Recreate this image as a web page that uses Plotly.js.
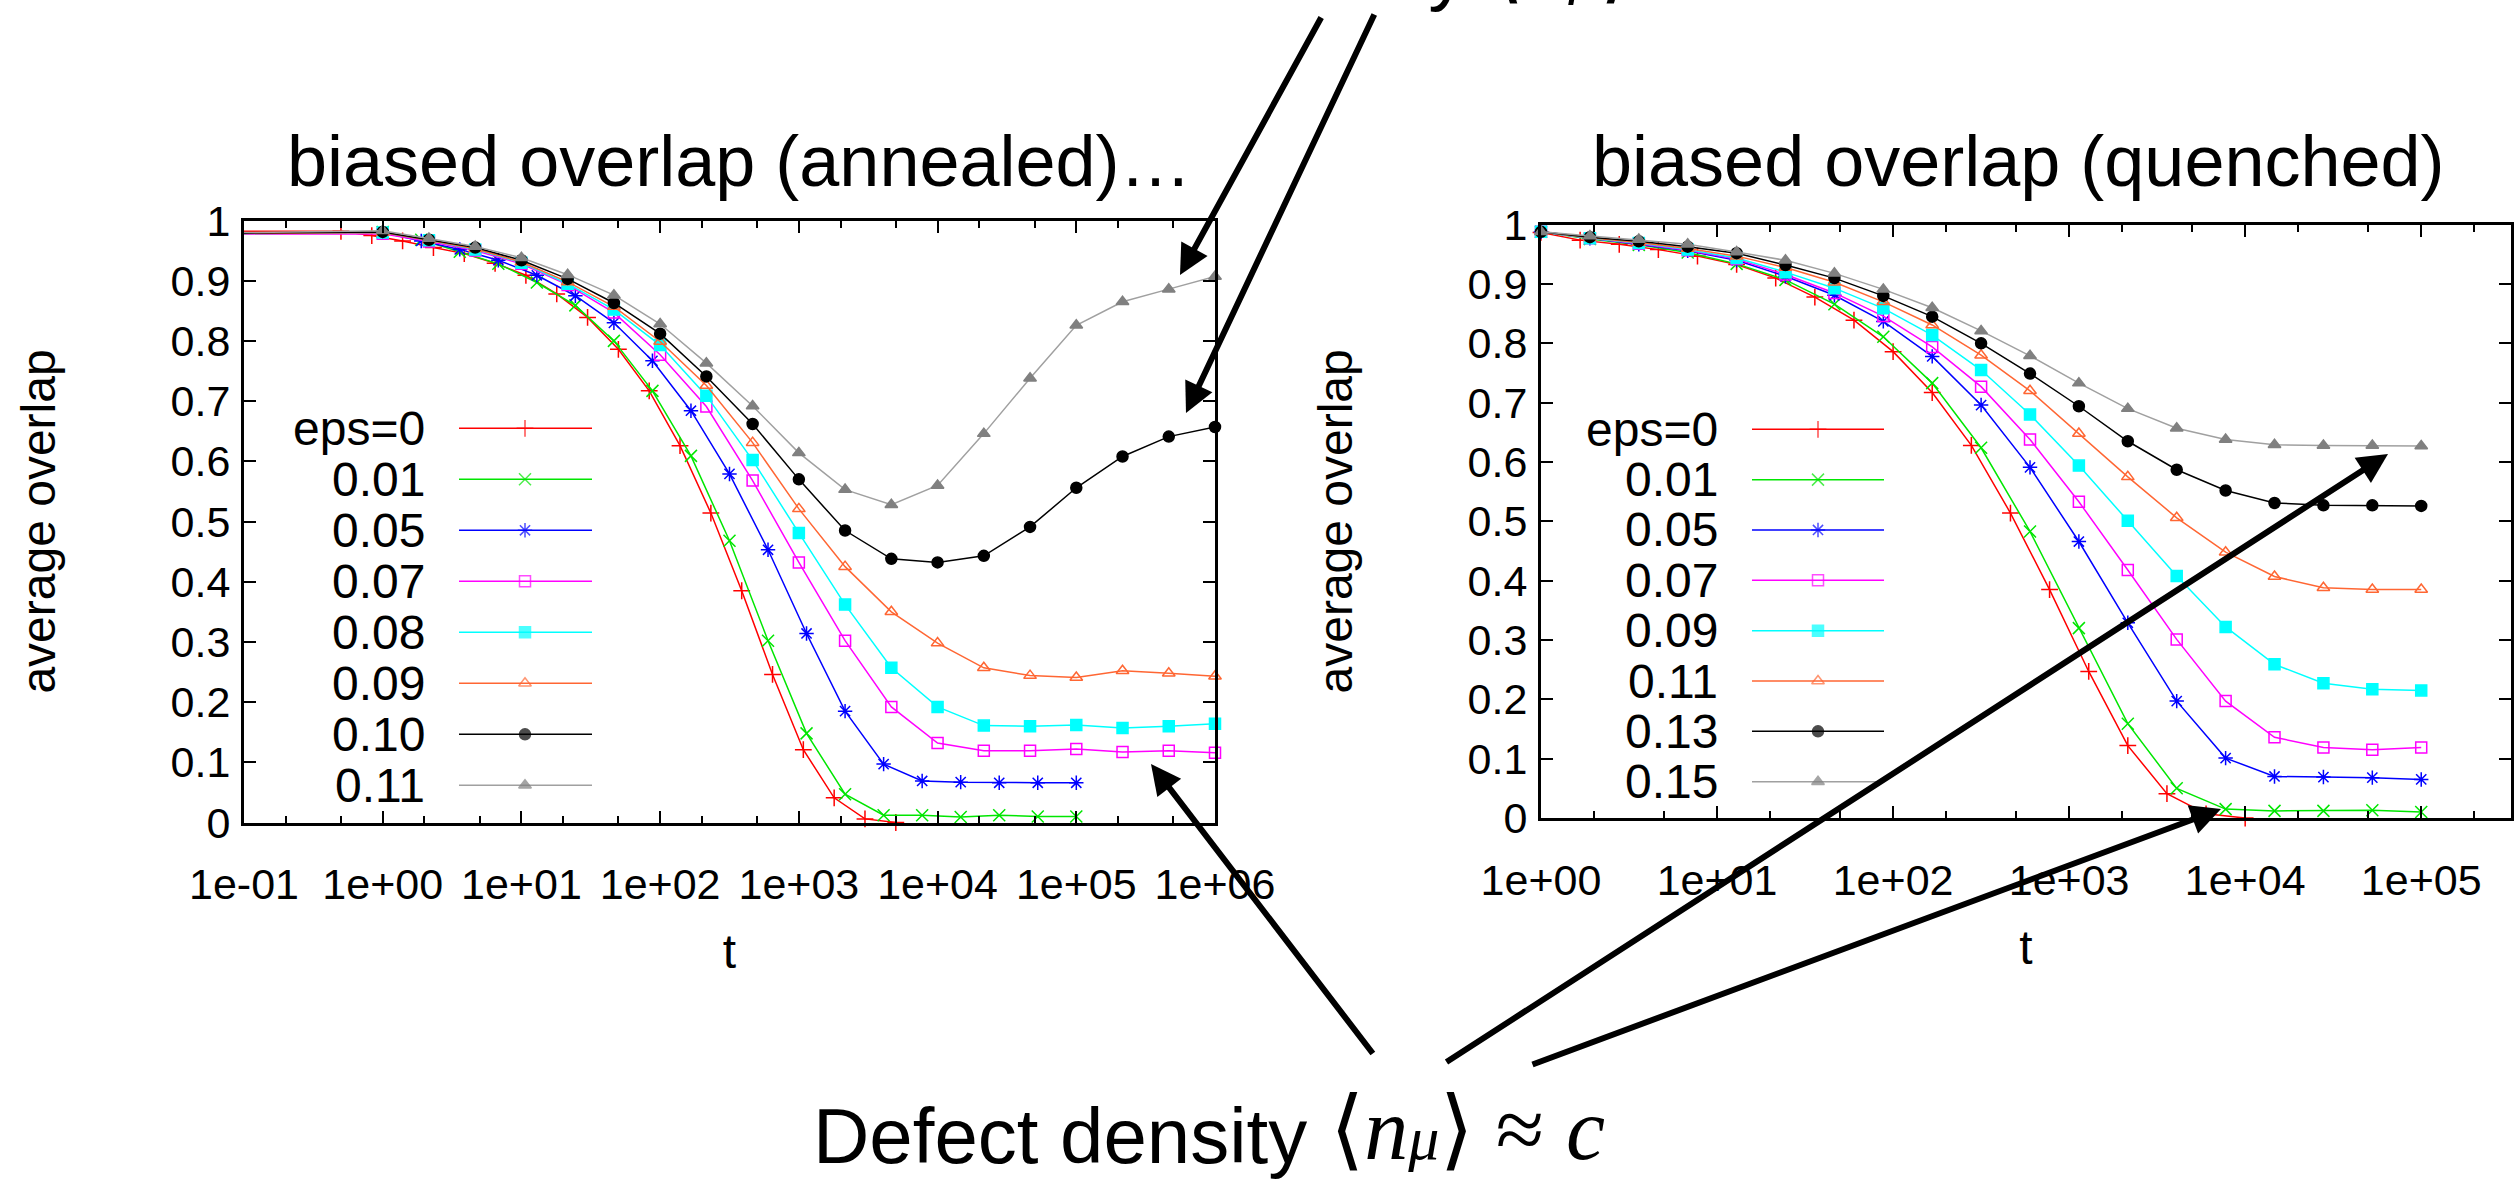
<!DOCTYPE html>
<html>
<head>
<meta charset="utf-8">
<script src="https://cdn.plot.ly/plotly-3.0.1.min.js"></script>
<style>
html,body{margin:0;padding:0;background:#fff;}
#chart{width:2515px;height:1183px;}
</style>
</head>
<body>
<div id="chart"></div>
<script>
// ---------------- DATA ----------------
// time grids
const tThird = [1, 2.154, 4.642, 10, 21.54, 46.42, 100, 215.4, 464.2, 1000, 2154, 4642, 10000, 21544, 46416, 100000, 215443, 464159, 1000000];
const tFine = [1, 1.896, 3.594, 6.813, 12.92, 24.48, 46.42, 88.01, 166.8, 316.2, 599.5, 1136, 2154, 4084, 7743, 14678, 27826, 52750, 100000];
const tRedAnnealed = [0.5, 0.834, 1.391, 2.321, 3.873, 6.459, 10.77, 17.97, 29.98, 50, 83.4, 139.1, 232.1, 387.3, 645.9, 1077, 1797, 2997, 5000];
const tRedQuenched = [1, 1.668, 2.783, 4.642, 7.743, 12.92, 21.54, 35.94, 59.95, 100, 166.8, 278.3, 464.2, 774.3, 1292, 2154, 3594, 5995, 10000];
const tEarly = 0.01; // earliest sample (left of the visible annealed range)

// annealed (left panel)
const annealedLabels = ["eps=0", "0.01", "0.05", "0.07", "0.08", "0.09", "0.10", "0.11"];
const annEps0  = [0.982, 0.975, 0.966, 0.955, 0.945, 0.929, 0.909, 0.878, 0.839, 0.786, 0.717, 0.626, 0.514, 0.385, 0.246, 0.121, 0.041, 0.006, 0.000];
const annEps01 = [0.981, 0.968, 0.948, 0.928, 0.897, 0.859, 0.800, 0.717, 0.609, 0.468, 0.302, 0.148, 0.047, 0.012, 0.012, 0.009, 0.012, 0.010, 0.010];
const annEps05 = [0.980, 0.966, 0.952, 0.934, 0.909, 0.875, 0.830, 0.767, 0.684, 0.579, 0.453, 0.314, 0.185, 0.097, 0.069, 0.067, 0.066, 0.066, 0.066];
const annEps07 = [0.978, 0.965, 0.950, 0.928, 0.893, 0.847, 0.777, 0.691, 0.568, 0.432, 0.302, 0.192, 0.132, 0.119, 0.119, 0.122, 0.117, 0.119, 0.116];
const annEps08 = [0.980, 0.967, 0.952, 0.930, 0.895, 0.852, 0.793, 0.709, 0.602, 0.481, 0.362, 0.257, 0.192, 0.161, 0.160, 0.162, 0.157, 0.160, 0.164];
const annEps09 = [0.980, 0.967, 0.953, 0.931, 0.898, 0.857, 0.799, 0.726, 0.631, 0.521, 0.425, 0.350, 0.298, 0.257, 0.244, 0.241, 0.252, 0.248, 0.243];
const annEps10 = [0.981, 0.968, 0.955, 0.934, 0.903, 0.863, 0.812, 0.741, 0.662, 0.570, 0.485, 0.438, 0.432, 0.443, 0.491, 0.556, 0.608, 0.641, 0.657];
const annEps11 = [0.983, 0.970, 0.957, 0.938, 0.910, 0.876, 0.828, 0.763, 0.692, 0.614, 0.553, 0.528, 0.560, 0.646, 0.738, 0.826, 0.865, 0.886, 0.907];
const annEarly = [0.982, 0.977, 0.977, 0.977, 0.977, 0.977, 0.977, 0.977];

// quenched (right panel)
const quenchedLabels = ["eps=0", "0.01", "0.05", "0.07", "0.09", "0.11", "0.13", "0.15"];
const queEps0  = [0.987, 0.974, 0.967, 0.958, 0.947, 0.933, 0.910, 0.878, 0.839, 0.786, 0.717, 0.628, 0.514, 0.385, 0.247, 0.122, 0.041, 0.007, 0.000];
const queEps01 = [0.988, 0.976, 0.966, 0.953, 0.934, 0.907, 0.866, 0.811, 0.733, 0.624, 0.483, 0.320, 0.159, 0.050, 0.015, 0.012, 0.012, 0.013, 0.010];
const queEps05 = [0.988, 0.977, 0.967, 0.956, 0.940, 0.913, 0.881, 0.837, 0.778, 0.696, 0.591, 0.466, 0.329, 0.197, 0.101, 0.070, 0.069, 0.068, 0.065];
const queEps07 = [0.988, 0.977, 0.968, 0.957, 0.942, 0.916, 0.885, 0.846, 0.794, 0.727, 0.638, 0.533, 0.418, 0.301, 0.197, 0.136, 0.119, 0.115, 0.119];
const queEps09 = [0.988, 0.977, 0.969, 0.958, 0.944, 0.920, 0.893, 0.859, 0.814, 0.755, 0.680, 0.594, 0.501, 0.408, 0.322, 0.259, 0.227, 0.217, 0.215];
const queEps11 = [0.988, 0.978, 0.970, 0.960, 0.947, 0.928, 0.903, 0.870, 0.831, 0.780, 0.720, 0.648, 0.575, 0.506, 0.448, 0.407, 0.388, 0.385, 0.385];
const queEps13 = [0.988, 0.979, 0.972, 0.963, 0.952, 0.932, 0.910, 0.880, 0.845, 0.800, 0.749, 0.694, 0.635, 0.587, 0.552, 0.531, 0.527, 0.527, 0.526];
const queEps15 = [0.988, 0.981, 0.975, 0.967, 0.954, 0.940, 0.918, 0.891, 0.860, 0.821, 0.779, 0.733, 0.690, 0.657, 0.638, 0.629, 0.628, 0.628, 0.627];

// tick labels
const annealedTickVals = [0.1, 1, 10, 100, 1000, 10000, 100000, 1000000];
const annealedTickText = ["1e-01", "1e+00", "1e+01", "1e+02", "1e+03", "1e+04", "1e+05", "1e+06"];
const quenchedTickVals = [1, 10, 100, 1000, 10000, 100000];
const quenchedTickText = ["1e+00", "1e+01", "1e+02", "1e+03", "1e+04", "1e+05"];

// ---------------- STYLE ----------------
const W = 2515, H = 1183;
const FONT = 'Liberation Sans, Arial, Helvetica, sans-serif';
const MATHFONT = 'Liberation Serif, DejaVu Serif, serif';
const markerColors = ["#ff0000", "#00e600", "#0000ff", "#ff00ff", "#00ffff", "#ff6633", "#000000", "#808080"];
const lineColors   = ["#ff0000", "#00e600", "#0000ff", "#ff00ff", "#00ffff", "#ff6633", "#000000", "#a0a0a0"];
const symbols = ["cross-thin-open", "x-thin-open", "asterisk-open", "square-open", "square", "triangle-up-open", "circle", "triangle-up"];
const symSizes = [12, 12, 12, 11, 11, 11, 11, 11];

const annX = [tRedAnnealed, tFine, tFine, tThird, tThird, tThird, tThird, tThird];
const annY = [annEps0, annEps01, annEps05, annEps07, annEps08, annEps09, annEps10, annEps11];
const queX = [tRedQuenched, tFine, tFine, tFine, tFine, tFine, tFine, tFine];
const queY = [queEps0, queEps01, queEps05, queEps07, queEps09, queEps11, queEps13, queEps15];

const traces = [];
function addSeries(xaxis, yaxis, xs, ys, i, early) {
  const lx = early === undefined ? xs : [tEarly].concat(xs);
  const ly = early === undefined ? ys : [early].concat(ys);
  traces.push({x: lx, y: ly, xaxis: xaxis, yaxis: yaxis, mode: 'lines', type: 'scatter',
    line: {color: lineColors[i], width: 1.5}, hoverinfo: 'skip', showlegend: false});
  traces.push({x: xs, y: ys, xaxis: xaxis, yaxis: yaxis, mode: 'markers', type: 'scatter', cliponaxis: false,
    marker: {symbol: symbols[i], size: symSizes[i], color: markerColors[i], line: {color: markerColors[i], width: 1.5}},
    hoverinfo: 'skip', showlegend: false});
}
for (let i = 0; i < 8; i++) addSeries('x', 'y', annX[i], annY[i], i, annEarly[i]);
for (let i = 0; i < 8; i++) addSeries('x2', 'y2', queX[i], queY[i], i);

// legend geometry (pixel coordinates of the page)
const legL = {textRight: 427, lineX0: 459, lineX1: 592, markX: 525, row0: 428.3, rowStep: 51.0};
const legR = {textRight: 1720, lineX0: 1752, lineX1: 1884, markX: 1818, row0: 429.3, rowStep: 50.34};

const shapes = [];
const annotations = [];
const PX = x => x / W;
const PY = y => 1 - y / H;

function addLegend(labels, g) {
  const ys = labels.map((_, i) => g.row0 + i * g.rowStep);
  labels.forEach((lab, i) => {
    shapes.push({type: 'line', xref: 'x3', yref: 'y3', x0: g.lineX0, x1: g.lineX1, y0: ys[i], y1: ys[i],
      line: {color: lineColors[i], width: 1.5}, layer: 'below'});
    annotations.push({xref: 'x3', yref: 'y3', x: g.textRight, y: ys[i], text: lab, showarrow: false,
      xanchor: 'right', yanchor: 'middle', font: {family: FONT, size: 48, color: '#000'}});
  });
  traces.push({x: labels.map(() => g.markX), y: ys, xaxis: 'x3', yaxis: 'y3', mode: 'markers', type: 'scatter',
    cliponaxis: false, hoverinfo: 'skip', showlegend: false,
    marker: {symbol: symbols, size: symSizes, color: markerColors, line: {color: markerColors, width: 1.5}}});
}
addLegend(annealedLabels, legL);
addLegend(quenchedLabels, legR);

// panel titles
annotations.push({xref: 'x3', yref: 'y3', x: 739, y: 161, text: 'biased overlap (annealed)…', showarrow: false,
  xanchor: 'center', yanchor: 'middle', font: {family: FONT, size: 72, color: '#000'}});
annotations.push({xref: 'x3', yref: 'y3', x: 2018, y: 161, text: 'biased overlap (quenched)', showarrow: false,
  xanchor: 'center', yanchor: 'middle', font: {family: FONT, size: 72, color: '#000'}});

// captions (bottom one, and the top one cut by the page edge); paper-referenced
const captionWords = 'Defect density';
const captionMath = '<span style="font-family:DejaVu Sans">⟨</span><i>n</i><span style="font-size:62px"><i>μ</i></span>' +
  '<span style="font-family:DejaVu Sans">⟩</span> ≈ <i>c</i>';
function addCaption(dx, dy) {
  annotations.push({xref: 'paper', yref: 'paper', x: PX(811 + dx), y: PY(1136 + dy), text: captionWords,
    showarrow: false, xanchor: 'left', yanchor: 'middle', font: {family: FONT, size: 78, color: '#000'}});
  annotations.push({xref: 'paper', yref: 'paper', x: PX(1328 + dx), y: PY(1182 + dy), text: captionMath,
    showarrow: false, xanchor: 'left', yanchor: 'bottom', font: {family: MATHFONT, size: 88, color: '#000'}});
}
addCaption(0, 0);
addCaption(160, -1167);

// arrows (tip x,y ; tail ax,ay) in page pixels
const arrows = [
  [1180, 275, 1322, 16],
  [1186, 413, 1375, 13],
  [1151, 764, 1374, 1055],
  [2388, 454, 1445, 1063],
  [2221, 809, 1531, 1065]
];
arrows.forEach(a => annotations.push({xref: 'x3', yref: 'y3', axref: 'x3', ayref: 'y3',
  x: a[0], y: a[1], ax: a[2], ay: a[3], text: '', showarrow: true,
  arrowhead: 2, arrowsize: 1, arrowwidth: 6, arrowcolor: '#000', standoff: 0, startstandoff: 0}));

// axes
function logAxis(domain, range, vals, text) {
  return {type: 'log', domain: domain, range: range, tickmode: 'array', tickvals: vals, ticktext: text,
    showline: true, linewidth: 3, linecolor: '#000', mirror: 'ticks', ticks: 'inside', ticklen: 12, tickwidth: 2,
    tickcolor: '#000', showgrid: false, zeroline: false, ticklabelstandoff: 22,
    tickfont: {family: FONT, size: 43, color: '#000'},
    minor: {ticks: 'inside', ticklen: 7, tickwidth: 2, tickcolor: '#000', dtick: 'D2', showgrid: false},
    title: {text: 't', font: {family: FONT, size: 48, color: '#000'}, standoff: 28}};
}
function linAxis(domain) {
  return {domain: domain, range: [0, 1], tick0: 0, dtick: 0.1,
    showline: true, linewidth: 3, linecolor: '#000', mirror: 'ticks', ticks: 'inside', ticklen: 12, tickwidth: 2,
    tickcolor: '#000', showgrid: false, zeroline: false, ticklabelstandoff: 2,
    tickfont: {family: FONT, size: 43, color: '#000'},
    title: {text: 'average overlap', font: {family: FONT, size: 48, color: '#000'}, standoff: 100}};
}

const layout = {
  width: W, height: H, margin: {l: 0, r: 0, t: 0, b: 0, pad: 0},
  paper_bgcolor: '#ffffff', plot_bgcolor: 'rgba(0,0,0,0)', showlegend: false,
  xaxis: Object.assign(logAxis([244 / W, 1215 / W], [-1, 6], annealedTickVals, annealedTickText), {anchor: 'y'}),
  yaxis: Object.assign(linAxis([1 - 822.5 / H, 1 - 220.5 / H]), {anchor: 'x'}),
  xaxis2: Object.assign(logAxis([1541 / W, 2511 / W], [0, 5.51], quenchedTickVals, quenchedTickText), {anchor: 'y2'}),
  yaxis2: Object.assign(linAxis([1 - 818 / H, 1 - 224.7 / H]), {anchor: 'x2'}),
  xaxis3: {domain: [0, 1], range: [0, W], visible: false, anchor: 'y3', fixedrange: true},
  yaxis3: {domain: [0, 1], range: [H, 0], visible: false, anchor: 'x3', fixedrange: true},
  shapes: shapes,
  annotations: annotations
};

Plotly.newPlot('chart', traces, layout, {staticPlot: true, displayModeBar: false});
</script>
</body>
</html>
